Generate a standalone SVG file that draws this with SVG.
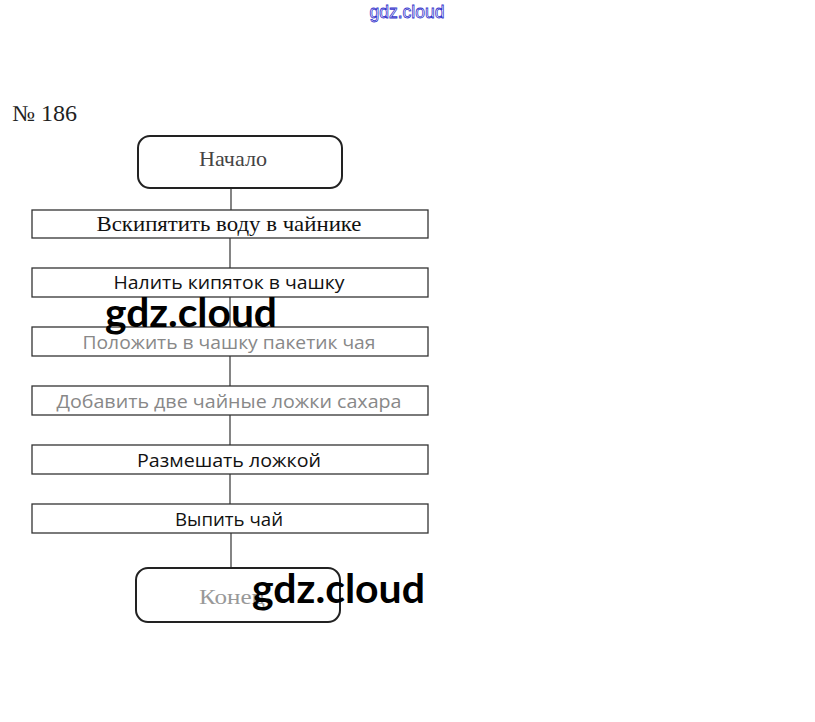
<svg xmlns="http://www.w3.org/2000/svg" width="815" height="722" viewBox="0 0 815 722">
<style>
.box{fill:#fff;stroke:#333;stroke-width:1.3}
.term{fill:#fff;stroke:#222;stroke-width:2}
.serif{font-family:"Liberation Serif","DejaVu Serif",serif;font-size:21px;text-anchor:middle}
.sans{font-family:"Open Sans","Liberation Sans",sans-serif;font-size:19px;text-anchor:middle}
.wm{font-family:"Lato","Open Sans",sans-serif;font-size:40px;font-weight:bold;fill:#000}
.conn{stroke:#333;stroke-width:1.2;fill:none}
</style>
<rect width="815" height="722" fill="#fff"/>
<text x="407" y="18" font-family="Liberation Sans, sans-serif" font-size="18" fill="#fff" stroke="#3333cc" stroke-width="0.8" text-anchor="middle" textLength="75" lengthAdjust="spacingAndGlyphs">gdz.cloud</text>
<text x="12" y="121" font-family="Liberation Serif, serif" font-size="23" fill="#222" textLength="65" lengthAdjust="spacingAndGlyphs">№ 186</text>
<g id="connectors">
<line class="conn" x1="231" y1="188" x2="231" y2="210"/>
<line class="conn" x1="230" y1="238" x2="230" y2="268"/>
<line class="conn" x1="230" y1="297" x2="230" y2="327"/>
<line class="conn" x1="230" y1="356" x2="230" y2="386"/>
<line class="conn" x1="230" y1="415" x2="230" y2="445"/>
<line class="conn" x1="230" y1="474" x2="230" y2="504"/>
<line class="conn" x1="231" y1="533" x2="231" y2="568"/>
</g>
<g id="start">
<rect class="term" x="138" y="136" width="204" height="52" rx="12"/>
<text class="serif" x="233" y="166" fill="#444" textLength="68" lengthAdjust="spacingAndGlyphs">Начало</text>
</g>
<g id="step1">
<rect class="box" x="32" y="210" width="396" height="28"/>
<text class="serif" x="229" y="231" fill="#111" textLength="265" lengthAdjust="spacingAndGlyphs">Вскипятить воду в чайнике</text>
</g>
<g id="step2">
<rect class="box" x="32" y="268" width="396" height="29"/>
<text class="sans" x="229" y="289" fill="#111" textLength="231" lengthAdjust="spacingAndGlyphs">Налить кипяток в чашку</text>
</g>
<g id="step3">
<rect class="box" x="32" y="327" width="396" height="29"/>
<text class="sans" x="229" y="349" fill="#888" textLength="293" lengthAdjust="spacingAndGlyphs">Положить в чашку пакетик чая</text>
</g>
<g id="step4">
<rect class="box" x="32" y="386" width="396" height="29"/>
<text class="sans" x="229" y="408" fill="#888" textLength="345" lengthAdjust="spacingAndGlyphs">Добавить две чайные ложки сахара</text>
</g>
<g id="step5">
<rect class="box" x="32" y="445" width="396" height="29"/>
<text class="sans" x="229" y="467" fill="#111" textLength="184" lengthAdjust="spacingAndGlyphs">Размешать ложкой</text>
</g>
<g id="step6">
<rect class="box" x="32" y="504" width="396" height="29"/>
<text class="sans" x="229" y="526" fill="#111" textLength="108" lengthAdjust="spacingAndGlyphs">Выпить чай</text>
</g>
<g id="end">
<rect class="term" x="136" y="568" width="204" height="54" rx="12"/>
<text class="serif" x="232" y="604" fill="#999" textLength="66" lengthAdjust="spacingAndGlyphs">Конец</text>
</g>
<text class="wm" x="105" y="327" textLength="172" lengthAdjust="spacingAndGlyphs">gdz.cloud</text>
<text class="wm" x="252" y="603" textLength="173" lengthAdjust="spacingAndGlyphs">gdz.cloud</text>
</svg>
